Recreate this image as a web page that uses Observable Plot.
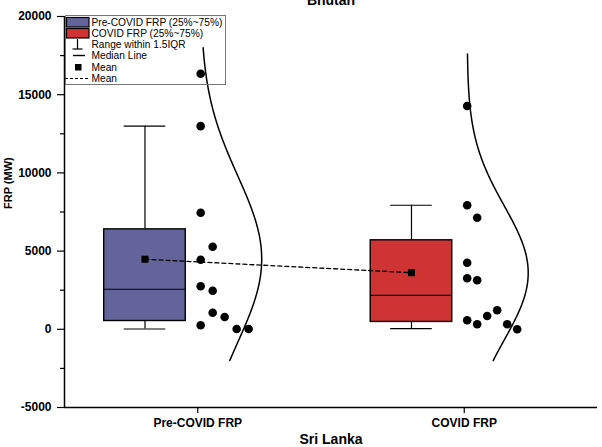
<!DOCTYPE html>
<html>
<head>
<meta charset="utf-8">
<script src="https://cdn.jsdelivr.net/npm/d3@7"></script>
<script src="https://cdn.jsdelivr.net/npm/@observablehq/plot@0.6"></script>
<style>
  html, body { margin: 0; padding: 0; background: #fff; }
  #wrap { position: relative; width: 602px; height: 447px; overflow: hidden; font-family: "Liberation Sans", Arial, sans-serif; }
  #legend { position: absolute; left: 65px; top: 15px; }
</style>
</head>
<body>
<div id="wrap"></div>
<script>
// ---- data ----
const title = "Bhutan";
const xTitle = "Sri Lanka";
const yTitle = "FRP (MW)";
const categories = ["Pre-COVID FRP", "COVID FRP"];
const boxLegend = ["Pre-COVID FRP (25%~75%)", "COVID FRP (25%~75%)"];
const boxColors = ["#64649a", "#cf3333"];

const preCovidFRP = [16343, 12990, 7455, 5281, 4450, 2749, 2468, 1061, 786, 256, 19, 19];
const preCovidStack = [0, 0, 0, 1, 0, 0, 1, 1, 2, 0, 3, 4];
const covidFRP = [14277, 7928, 7136, 4258, 3261, 3133, 575, 320, 850, 1215, 320, 0];
const covidStack = [0, 0, 1, 0, 0, 1, 0, 1, 2, 3, 4, 5];

const q1 = [530, 470];
const median = [2560, 2170];
const q3 = [6390, 5690];
const whiskerLow = [20, 40];
const whiskerHigh = [12990, 7930];
const meanValue = [4480, 3620];
const curveLow = [-2000, -2000];
const curveHigh = [18000, 17600];

const yTicks = [-5000, 0, 5000, 10000, 15000, 20000];
const yMinorTicks = [-2500, 2500, 7500, 12500, 17500];

// ---- build tables ----
const groups = [preCovidFRP, covidFRP];
const stacks = [preCovidStack, covidStack];
const boxShift = -0.198, boxHalf = 0.153, capHalf = 0.078;
const dotShift = 0.011, dotStep = [0.045, 0.0375], curveAmp = 0.229;

const boxes = categories.map((c, i) => ({
  cat: c, pos: i + 1, c: i + 1 + boxShift,
  q1: q1[i], med: median[i], q3: q3[i], lo: whiskerLow[i], hi: whiskerHigh[i], mean: meanValue[i], fill: boxColors[i]
}));

const points = groups.flatMap((vals, i) => vals.map((v, j) => ({
  x: i + 1 + dotShift + stacks[i][j] * dotStep[i], y: v
})));

const curves = groups.flatMap((vals, i) => {
  const m = d3.mean(vals), s = d3.deviation(vals);
  const n = 160, out = [];
  for (let k = 0; k <= n; k++) {
    const y = curveLow[i] + (curveHigh[i] - curveLow[i]) * k / n;
    out.push({g: i, y, x: i + 1 + dotShift + curveAmp * Math.exp(-0.5 * ((y - m) / s) ** 2)});
  }
  return out;
});

const font = "Liberation Sans, Arial, sans-serif";

const chart = Plot.plot({
  width: 602, height: 447,
  marginLeft: 64, marginRight: 5, marginTop: 16, marginBottom: 40,
  style: {fontFamily: font, overflow: "visible", background: "white", color: "black"},
  x: {type: "linear", domain: [0.5, 2.5]},
  y: {domain: [-5000, 20000]},
  marks: [
    // whiskers
    Plot.ruleX(boxes, {x: "c", y1: "q3", y2: "hi", stroke: "black", strokeWidth: 1.2}),
    Plot.ruleX(boxes, {x: "c", y1: "lo", y2: "q1", stroke: "black", strokeWidth: 1.2}),
    Plot.ruleY(boxes, {y: "hi", x1: d => d.c - capHalf, x2: d => d.c + capHalf, stroke: "black", strokeWidth: 1.2}),
    Plot.ruleY(boxes, {y: "lo", x1: d => d.c - capHalf, x2: d => d.c + capHalf, stroke: "black", strokeWidth: 1.2}),
    // boxes
    Plot.rect(boxes, {x1: d => d.c - boxHalf, x2: d => d.c + boxHalf, y1: "q1", y2: "q3", fill: "fill", stroke: "black", strokeWidth: 1.4}),
    Plot.ruleY(boxes, {y: "med", x1: d => d.c - boxHalf, x2: d => d.c + boxHalf, stroke: "black", strokeWidth: 1.2}),
    // mean connector
    Plot.line(boxes, {x: "c", y: "mean", stroke: "black", strokeWidth: 1.3, strokeDasharray: "4,3"}),
    Plot.dot(boxes, {x: "c", y: "mean", symbol: "square", r: 4, fill: "black"}),
    // data points
    Plot.dot(points, {x: "x", y: "y", r: 4.3, fill: "black"}),
    // normal curves
    Plot.line(curves, {x: "x", y: "y", z: "g", stroke: "black", strokeWidth: 1.5}),
    // axes
    Plot.ruleX([0.5], {stroke: "black", strokeWidth: 1.5}),
    Plot.ruleY([-5000], {stroke: "black", strokeWidth: 1.5}),
    Plot.axisY({ticks: yTicks, tickSize: 7, tickPadding: 6, tickFormat: d => String(d), fontSize: 12, fontWeight: "bold", label: null, strokeWidth: 1.2}),
    Plot.axisY({ticks: yMinorTicks, tickSize: 4, tickFormat: () => "", label: null, strokeWidth: 1.2}),
    Plot.axisX({ticks: [1, 2], tickSize: 6, tickPadding: 5, tickFormat: d => categories[d - 1], fontSize: 12, fontWeight: "bold", label: null, strokeWidth: 1.2}),
    Plot.text([xTitle], {frameAnchor: "bottom", dy: 32, fontSize: 14, fontWeight: "bold", lineAnchor: "middle"}),
    Plot.text([yTitle], {frameAnchor: "left", dx: -56, dy: -3, rotate: -90, fontSize: 11, fontWeight: "bold", lineAnchor: "middle"}),
    Plot.text([title], {frameAnchor: "top", dy: -12, fontSize: 14, fontWeight: "bold", lineAnchor: "bottom"})
  ]
});

const wrap = document.getElementById("wrap");
wrap.appendChild(chart);

// ---- legend (overlay, transparent so data underneath stays visible) ----
const lg = d3.select(wrap).append("svg").attr("id", "legend")
  .attr("width", 162).attr("height", 72).style("font-family", font).style("overflow", "visible");
lg.append("rect").attr("x", 0.5).attr("y", 0.5).attr("width", 160).attr("height", 69)
  .attr("fill", "none").attr("stroke", "#777").attr("stroke-width", 1);
const rowY = [7.5, 18.7, 29.7, 40.5, 52.3, 63.5];
const labels = [boxLegend[0], boxLegend[1], "Range within 1.5IQR", "Median Line", "Mean", "Mean"];
lg.append("rect").attr("x", 1.5).attr("y", 2.5).attr("width", 22.5).attr("height", 9.5).attr("fill", boxColors[0]).attr("stroke", "black").attr("stroke-width", 1.2);
lg.append("rect").attr("x", 1.5).attr("y", 13.5).attr("width", 22.5).attr("height", 9.5).attr("fill", boxColors[1]).attr("stroke", "black").attr("stroke-width", 1.2);
// whisker symbol
lg.append("line").attr("x1", 12.5).attr("x2", 12.5).attr("y1", 24).attr("y2", 34).attr("stroke", "black").attr("stroke-width", 1.2);
lg.append("line").attr("x1", 7.5).attr("x2", 17.5).attr("y1", 34).attr("y2", 34).attr("stroke", "black").attr("stroke-width", 1.2);
// median line
lg.append("line").attr("x1", 8).attr("x2", 20).attr("y1", 40.5).attr("y2", 40.5).attr("stroke", "black").attr("stroke-width", 1.4);
// mean square
lg.append("rect").attr("x", 10).attr("y", 49).attr("width", 6.5).attr("height", 6.5).attr("fill", "black");
// dashed mean
lg.append("line").attr("x1", 0).attr("x2", 25).attr("y1", 63.5).attr("y2", 63.5).attr("stroke", "black").attr("stroke-width", 1.2).attr("stroke-dasharray", "3,2");
labels.forEach((t, i) => {
  lg.append("text").attr("x", 26.5).attr("y", rowY[i]).attr("dy", "0.35em")
    .attr("font-size", 10.2).attr("fill", "black").text(t);
});
</script>
</body>
</html>
